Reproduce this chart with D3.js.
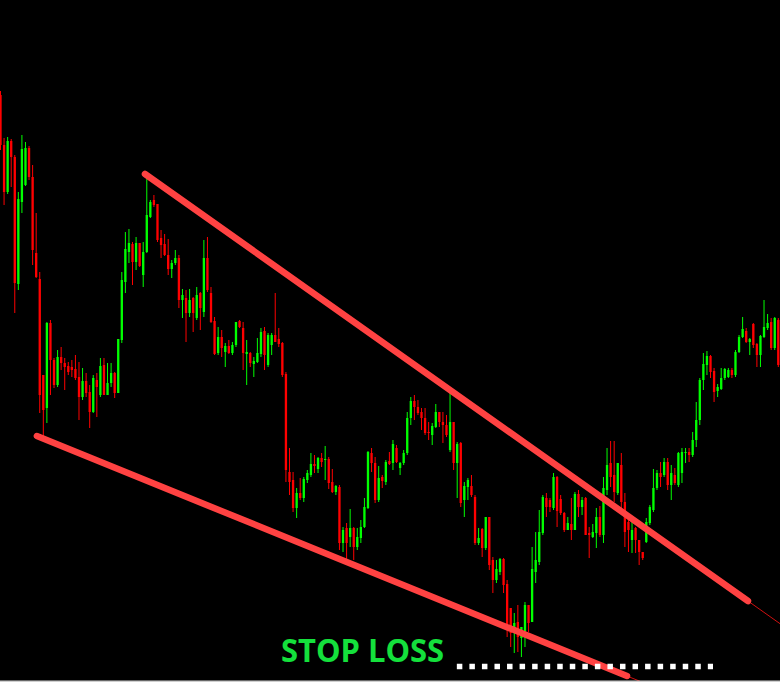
<!DOCTYPE html>
<html>
<head>
<meta charset="utf-8">
<script src="https://cdn.jsdelivr.net/npm/d3@7/dist/d3.min.js"></script>
<style>
  html, body { margin: 0; padding: 0; background: #000; overflow: hidden; }
  #chart { width: 780px; height: 682px; }
</style>
</head>
<body>
<div id="chart"></div>
<script>
// candle data (price points)
var opens = [
  605,555,508,559,543,416,498,515,552,523, 447,421,325,292,377,340,315,343,337,334,
  333,331,323,303,319,308,288,320,305,335, 305,317,327,307,360,418,448,456,438,457,
  425,448,483,500,496,462,456,445,431,437, 442,400,402,387,402,382,407,388,442,407,
  379,347,363,348,354,347,355,379,372,346, 347,336,338,346,369,335,355,365,361,357,
  326,228,220,192,207,202,220,225,236,231, 242,240,241,218,208,213,157,172,163,172,
  153,162,173,192,247,237,200,223,218,239, 237,252,232,237,247,282,299,293,288,282,
  268,265,273,288,278,275,250,278,237,257, 200,213,214,203,157,171,152,183,140,120,
  128,141,116,92,72,78,62,69,95,78, 128,138,167,202,200,192,223,201,187,170,
  176,170,206,193,202,167,163,167,183,165, 210,237,225,207,235,198,178,160,172,160,
  148,158,177,190,212,227,225,238,215,225, 215,227,247,248,245,260,280,320,335,344,
  329,309,311,322,323,330,325,348,363,369, 358,376,356,345,363,372,378,352,380
];
var highs = [
  609,562,563,561,545,508,565,558,554,535, 487,428,325,378,380,342,350,353,342,338,
  340,345,338,332,327,315,325,327,342,342, 337,337,328,361,428,468,471,458,463,457,
  458,522,500,505,496,470,466,461,440,450, 445,411,410,411,403,413,408,460,463,413,
  383,373,370,357,360,358,378,380,378,360, 348,343,362,372,373,367,367,407,372,358,
  328,252,228,212,222,223,230,247,245,243, 247,254,243,231,215,215,173,177,191,173,
  172,180,202,249,252,243,234,225,240,248, 260,255,238,250,288,303,305,300,292,292,
  278,277,296,288,288,285,307,278,258,258, 218,222,225,205,172,172,183,183,143,140,
  142,142,120,92,87,95,73,98,95,153, 168,190,205,207,202,227,224,205,188,183,
  202,208,210,203,203,173,176,192,194,223, 252,259,259,237,247,207,180,182,173,160,
  148,182,195,231,230,238,242,242,235,232, 248,252,252,252,268,298,322,347,349,345,
  332,316,332,332,332,332,350,365,383,372, 362,377,357,365,400,386,382,383,382
];
var lows = [
  550,495,506,513,387,410,487,514,520,435, 422,287,263,277,305,312,313,330,310,325,
  323,320,280,300,303,272,287,283,303,305, 305,313,302,307,357,407,437,415,430,433,
  413,447,482,493,458,442,444,425,422,435, 392,382,358,383,368,380,370,383,408,377,
  345,345,343,333,346,345,353,372,330,315, 333,323,337,343,330,333,345,358,353,323,
  218,205,188,182,200,198,217,223,227,227, 233,220,211,207,205,150,148,140,153,140,
  150,157,172,191,228,197,198,212,215,235, 230,237,225,235,245,275,280,285,270,265,
  260,255,272,273,257,263,248,230,202,193, 183,200,203,155,155,143,150,130,107,117,
  125,107,63,53,47,48,43,53,68,78, 117,135,165,183,188,190,173,185,168,170,
  160,170,183,185,165,142,162,152,163,157, 205,213,198,205,190,153,148,147,147,135,
  140,157,175,188,210,213,223,210,200,215, 213,217,237,238,243,253,275,310,325,322,
  298,303,310,320,322,322,323,347,362,357, 345,352,333,333,362,370,350,350,333
];
var closes = [
  555,508,559,543,417,501,551,552,523,450, 423,305,290,377,340,315,343,337,333,328,
  330,322,303,319,307,288,322,313,334,305, 317,327,307,361,420,451,457,438,457,434,
  448,485,498,495,460,455,445,431,437,442, 400,405,387,400,387,405,392,442,410,378,
  346,363,352,354,347,355,378,373,347,348, 337,339,347,368,345,365,365,358,356,325,
  230,218,192,207,202,221,227,236,234,242, 238,241,217,208,214,157,170,157,172,153,
  163,173,193,248,237,200,222,219,238,236, 256,238,237,247,282,299,293,287,282,267,
  267,274,288,278,275,265,278,237,256,197, 214,220,205,157,162,152,183,135,120,131,
  141,115,75,67,77,63,73,95,77,131, 140,168,203,193,193,223,189,187,170,177,
  170,206,193,200,165,165,168,183,165,212, 235,223,208,237,198,168,170,170,160,148,
  142,178,193,212,227,223,238,215,227,217, 247,248,248,245,260,280,320,336,344,328,
  308,313,322,331,330,325,348,363,371,358, 361,355,345,364,373,377,352,382,335
];

// trend lines: [candle index, price]
var upperLine = [[40.5, 526], [209.5, 99]];
var lowerLine = [[10.2, 264], [175.6, 24]];

// stop loss level
var stopLossPrice = 33.5;
var stopLossFrom = 127.9;
var stopLossTo = 199.7;
var stopLossLabel = "STOP LOSS";

var width = 780, height = 682;
var n = opens.length;

var data = opens.map(function (o, i) {
  return { i: i, o: o, h: Math.max(highs[i], o, closes[i]), l: Math.min(lows[i], o, closes[i]), c: closes[i] };
});

var svg = d3.select("#chart")
  .append("svg")
  .attr("width", width)
  .attr("height", height)
  .style("display", "block")
  .style("background", "#000");

var x = d3.scaleLinear().domain([0, n - 1]).range([0.5, 778.3]);
var y = d3.scaleLinear().domain([18, 700]).range([height, 0]);
var step = x(1) - x(0);
var bodyW = step * 0.65;

var green = "#00ff00", red = "#ff0000";

var candles = svg.append("g").selectAll("g")
  .data(data)
  .enter()
  .append("g");

candles.append("line")
  .attr("x1", function (d) { return x(d.i); })
  .attr("x2", function (d) { return x(d.i); })
  .attr("y1", function (d) { return y(d.h); })
  .attr("y2", function (d) { return y(d.l); })
  .attr("stroke", function (d) { return d.c >= d.o ? green : red; })
  .attr("stroke-width", 1);

candles.append("rect")
  .attr("x", function (d) { return x(d.i) - bodyW / 2; })
  .attr("y", function (d) { return y(Math.max(d.o, d.c)); })
  .attr("width", bodyW)
  .attr("height", function (d) { return Math.max(1, Math.abs(y(d.o) - y(d.c))); })
  .attr("fill", function (d) { return d.c >= d.o ? green : red; });

// trend lines, thin extension first then the thick stroke
function extend(pts, toIndex) {
  var slope = (pts[1][1] - pts[0][1]) / (pts[1][0] - pts[0][0]);
  return [pts[0], [toIndex, pts[0][1] + slope * (toIndex - pts[0][0])]];
}
var lineGen = d3.line()
  .x(function (d) { return x(d[0]); })
  .y(function (d) { return y(d[1]); });

[upperLine, lowerLine].forEach(function (pts) {
  svg.append("path")
    .attr("d", lineGen(extend(pts, n + 2)))
    .attr("fill", "none")
    .attr("stroke", "#d01010")
    .attr("stroke-width", 1);
  svg.append("path")
    .attr("d", lineGen(pts))
    .attr("fill", "none")
    .attr("stroke", "#ff4242")
    .attr("stroke-width", 6.5)
    .attr("stroke-linecap", "round");
});

// stop loss dotted level
svg.append("line")
  .attr("x1", x(stopLossFrom))
  .attr("x2", x(stopLossTo))
  .attr("y1", y(stopLossPrice))
  .attr("y2", y(stopLossPrice))
  .attr("stroke", "#ffffff")
  .attr("stroke-width", 5.5)
  .attr("stroke-dasharray", "5.5,7.05");

svg.append("text")
  .attr("x", 281)
  .attr("y", y(stopLossPrice) - 4.5)
  .attr("font-family", "'Open Sans', sans-serif")
  .attr("font-weight", "bold")
  .attr("font-size", 32)
  .attr("textLength", 163)
  .attr("lengthAdjust", "spacingAndGlyphs")
  .attr("fill", "#14e03c")
  .text(stopLossLabel);

// bottom frame edge
svg.append("rect")
  .attr("x", 0)
  .attr("y", height - 1.5)
  .attr("width", width)
  .attr("height", 1.5)
  .attr("fill", "#d0d0d0");
</script>
</body>
</html>
